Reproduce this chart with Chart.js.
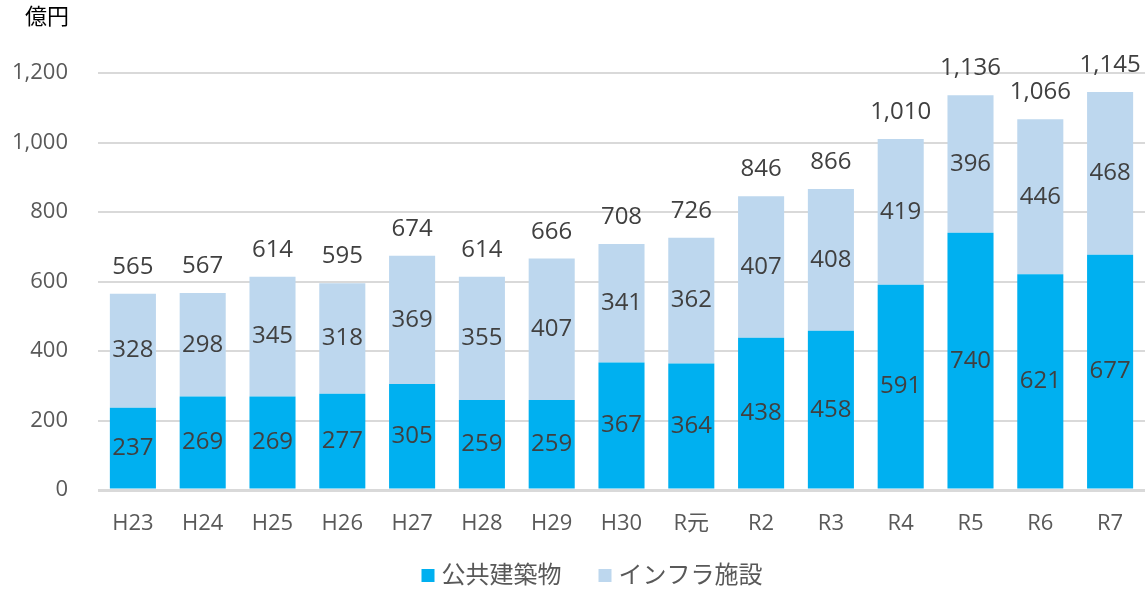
<!DOCTYPE html>
<html>
<head>
<meta charset="utf-8">
<script src="https://cdn.jsdelivr.net/npm/chart.js@4/dist/chart.umd.min.js"></script>
<style>
  html, body { margin: 0; padding: 0; background: #fff; }
  #wrap { width: 1147px; height: 589px; }
</style>
</head>
<body>
<div id="wrap"><canvas id="costChart" width="1147" height="589"></canvas></div>
<script>
// Chart data
const years = ['H23', 'H24', 'H25', 'H26', 'H27', 'H28', 'H29', 'H30', 'R元', 'R2', 'R3', 'R4', 'R5', 'R6', 'R7'];
const buildings = [237, 269, 269, 277, 305, 259, 259, 367, 364, 438, 458, 591, 740, 621, 677];
const infra = [328, 298, 345, 318, 369, 355, 407, 341, 362, 407, 408, 419, 396, 446, 468];
// totals as printed (rounded separately in the source)
const totals = [565, 567, 614, 595, 674, 614, 666, 708, 726, 846, 866, 1010, 1136, 1066, 1145];
const yTicks = [0, 200, 400, 600, 800, 1000, 1200];
const unitLabel = '億円';

const FONT = '"Open Sans", "Noto Sans CJK JP", sans-serif';
const fmt = v => v.toLocaleString('en-US');

// Value labels inside segments + totals on top + unit label + legend
const valueLabels = {
    id: 'valueLabels',
    afterDatasetsDraw(chart) {
        const ctx = chart.ctx;
        ctx.save();
        ctx.font = '24px ' + FONT;
        ctx.fillStyle = '#404040';
        ctx.textAlign = 'center';
        ctx.textBaseline = 'middle';
        chart.data.datasets.forEach((ds, i) => {
            chart.getDatasetMeta(i).data.forEach((bar, j) => {
                const mid = (bar.y + bar.base) / 2;
                ctx.fillText(fmt(ds.data[j]), bar.x, mid);
            });
        });
        // totals
        const top = chart.getDatasetMeta(1).data;
        ctx.textBaseline = 'alphabetic';
        top.forEach((bar, j) => {
            ctx.fillText(fmt(totals[j]), bar.x, bar.y - 20);
        });
        // unit
        ctx.font = '22px ' + FONT;
        ctx.fillStyle = '#000';
        ctx.textAlign = 'left';
        ctx.textBaseline = 'middle';
        ctx.fillText(unitLabel, 25, 18);

        // legend (box, gap 7, text, gap 37 between items)
        ctx.font = '24px ' + FONT;
        const ds = chart.data.datasets;
        const widths = ds.map(d => 13 + 7 + ctx.measureText(d.label).width);
        const total = widths.reduce((a, b) => a + b, 0) + 37 * (ds.length - 1);
        let x = 592 - total / 2;
        const cy = 576;
        ds.forEach((d, i) => {
            ctx.fillStyle = d.backgroundColor;
            ctx.fillRect(x, cy - 7, 13, 13);
            ctx.fillStyle = '#595959';
            ctx.fillText(d.label, x + 20, cy);
            x += widths[i] + 37;
        });
        ctx.restore();
    }
};

const config = {
    type: 'bar',
    data: {
        labels: years,
        datasets: [
            {
                label: '公共建築物',
                data: buildings,
                backgroundColor: '#00B0F0',
                borderWidth: 0
            },
            {
                label: 'インフラ施設',
                data: infra,
                backgroundColor: '#BDD7EE',
                borderWidth: 0
            }
        ]
    },
    options: {
        responsive: false,
        animation: false,
        layout: { padding: { top: 73, right: 2, left: 0, bottom: 26 } },
        datasets: {
            bar: { categoryPercentage: 1, barPercentage: 0.66 }
        },
        scales: {
            x: {
                stacked: true,
                afterFit(scale) { scale.height = 73; },
                grid: { display: false },
                border: { display: false },
                ticks: { color: '#595959', font: { family: FONT, size: 22 }, padding: 13 }
            },
            y: {
                stacked: true,
                min: 0,
                max: 1200,
                afterFit(scale) { scale.width = 98; },
                afterBuildTicks(scale) { scale.ticks = yTicks.map(v => ({ value: v })); },
                border: { display: false },
                grid: {
                    color: '#D9D9D9',
                    lineWidth: c => (c.tick && c.tick.value === 0 ? 3 : 2),
                    drawTicks: false
                },
                ticks: {
                    color: '#595959',
                    font: { family: FONT, size: 22 },
                    padding: 30,
                    callback: v => fmt(v)
                }
            }
        },
        plugins: {
            legend: { display: false },
            tooltip: { enabled: false }
        }
    },
    plugins: [valueLabels]
};

// Render the chart
const ctx = document.getElementById('costChart').getContext('2d');
new Chart(ctx, config);
</script>
</body>
</html>
